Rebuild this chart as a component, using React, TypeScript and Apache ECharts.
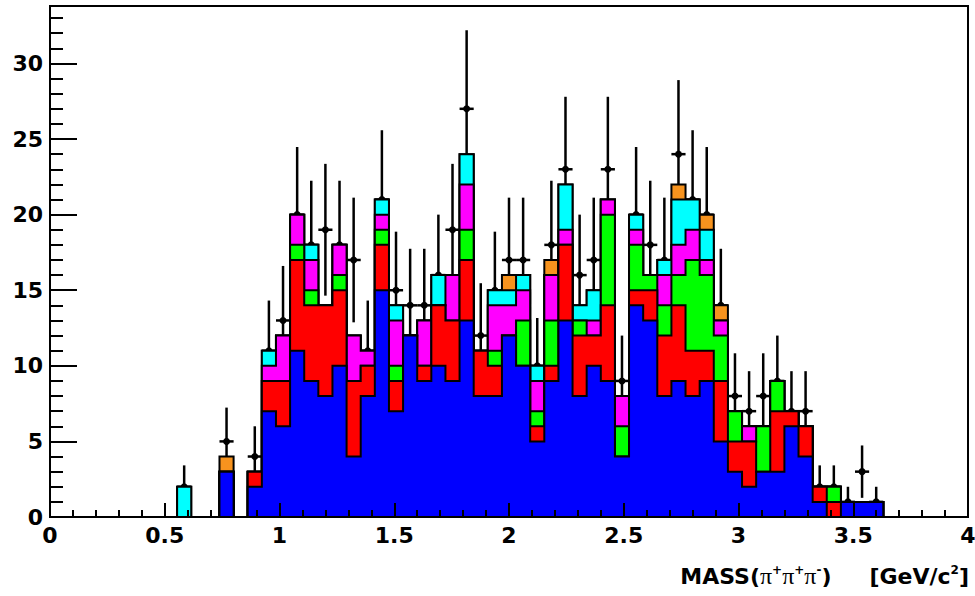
import React, { useEffect, useRef } from "react";
import * as echarts from "echarts";

// Histogram binning: 65 bins over [0, 4]; listed bins start at index 9
const X_MIN = 0;
const X_MAX = 4;
const N_BINS = 65;
const FIRST_BIN = 9;

// Stacked components (bins 9..58), bottom to top
const blueCounts = [0,0,0,3,0,2,7,6,11,9, 8,10,4,8,15,7,12,9,10,9, 13,8,8,12,10,5,9,13,8,10, 9,4,14,13,8,9,8,9,5,3, 2,3,3,6,4,1,0,1,1,1];
const redCounts = [0,0,0,0,0,1,2,3,6,5, 6,5,5,2,3,2,0,1,4,4, 4,3,2,0,0,1,1,5,4,2, 5,0,1,2,4,5,3,2,4,2, 3,0,4,1,2,1,1,0,0,0];
const greenCounts = [0,0,0,0,0,0,0,0,1,1, 0,1,0,0,1,1,0,0,0,0, 2,0,1,0,3,1,3,0,1,0, 6,2,3,1,2,2,6,5,3,2, 0,3,2,0,0,0,1,0,0,0];
const magentaCounts = [0,0,0,0,0,0,1,3,2,2, 0,2,3,1,1,3,0,3,0,3, 3,0,3,2,2,2,3,1,0,1, 1,2,1,0,2,2,2,1,1,0, 1,0,0,0,0,0,0,0,0,0];
const cyanCounts = [2,0,0,0,0,0,1,0,0,1, 0,0,0,0,1,1,0,0,2,0, 2,0,1,1,1,1,0,3,1,2, 0,0,1,0,1,3,2,2,0,0, 0,0,0,0,0,0,0,0,0,0];
const orangeCounts = [0,0,0,1,0,0,0,0,0,0, 0,0,0,0,0,0,0,0,0,0, 0,0,0,1,0,0,1,0,0,0, 0,0,0,0,0,1,0,1,1,0, 0,0,0,0,0,0,0,0,0,0];

// Data points (bins 9..58)
const dataCounts = [2,0,0,5,0,4,11,13,20,18, 19,18,17,11,21,15,14,14,16,19, 27,12,15,17,17,10,18,23,16,17, 23,9,20,18,17,24,21,20,14,8, 7,8,9,7,7,2,2,1,3,1];

const layerCounts = [blueCounts, redCounts, greenCounts, magentaCounts, cyanCounts, orangeCounts];
const layerColors = ["#0000ff", "#ff0000", "#00ff00", "#ff00ff", "#00ffff", "#f7931e"];

const BIN_W = (X_MAX - X_MIN) / N_BINS;
const binLeft = (i: number) => X_MIN + (FIRST_BIN + i) * BIN_W;

const cumulative = (level: number) =>
  blueCounts.map((_, i) => {
    let s = 0;
    for (let k = 0; k <= level; k++) s += layerCounts[k][i];
    return s;
  });

const FONT = "'DejaVu Sans', Verdana, sans-serif";

export default function App() {
  const ref = useRef<HTMLDivElement>(null);
  useEffect(() => {
    if (!ref.current) return;
    const chart = echarts.init(ref.current, null, { renderer: "svg" });

    const stackData = [5, 4, 3, 2, 1, 0].map((l) => [l, 0]);
    const pointData = dataCounts
      .map((n, i) => [binLeft(i) + BIN_W / 2, n])
      .filter((d) => d[1] > 0);

    chart.setOption({
      animation: false,
      backgroundColor: "#ffffff",
      grid: {
        left: 50,
        right: 7,
        top: 6,
        bottom: 79,
        show: true,
        borderColor: "#000",
        borderWidth: 2,
        backgroundColor: "transparent",
        outerBoundsMode: "none",
      },
      xAxis: {
        type: "value",
        min: X_MIN,
        max: X_MAX,
        interval: 0.5,
        z: 5,
        axisLine: { show: true, lineStyle: { color: "#000", width: 2 } },
        axisTick: { show: true, inside: true, length: 14, lineStyle: { color: "#000", width: 2 } },
        minorTick: { show: true, splitNumber: 5, length: 7, lineStyle: { color: "#000", width: 2 } },
        splitLine: { show: false },
        minorSplitLine: { show: false },
        axisLabel: {
          color: "#000",
          fontFamily: FONT,
          fontWeight: "bold",
          fontSize: 22,
          margin: 7,
        },
      },
      yAxis: {
        type: "value",
        min: 0,
        max: 33.8,
        interval: 5,
        z: 5,
        axisLine: { show: true, lineStyle: { color: "#000", width: 2 } },
        axisTick: { show: true, inside: true, length: 27, lineStyle: { color: "#000", width: 2 } },
        minorTick: { show: true, splitNumber: 5, length: 13, lineStyle: { color: "#000", width: 2 } },
        splitLine: { show: false },
        minorSplitLine: { show: false },
        axisLabel: {
          color: "#000",
          fontFamily: FONT,
          fontWeight: "bold",
          fontSize: 22,
          margin: 7,
          showMaxLabel: false,
          formatter: (v: number) => (Math.abs(v % 5) < 1e-9 ? String(v) : ""),
        },
      },
      series: [
        {
          type: "custom",
          name: "data",
          coordinateSystem: "cartesian2d",
          z: 1,
          data: pointData,
          renderItem: (_params: any, api: any) => {
            const x = api.value(0) as number;
            const n = api.value(1) as number;
            const e = Math.sqrt(n);
            const c = api.coord([x, n]);
            const t = api.coord([x, n + e]);
            const b = api.coord([x, Math.max(0, n - e)]);
            const l = api.coord([x - BIN_W / 2, n]);
            const r = api.coord([x + BIN_W / 2, n]);
            return {
              type: "group",
              children: [
                { type: "line", shape: { x1: c[0], y1: t[1], x2: c[0], y2: b[1] }, style: { stroke: "#000", lineWidth: 2.5 } },
                { type: "line", shape: { x1: l[0], y1: c[1], x2: r[0], y2: c[1] }, style: { stroke: "#000", lineWidth: 2.5 } },
                { type: "circle", shape: { cx: c[0], cy: c[1], r: 3.5 }, style: { fill: "#000" } },
              ],
            };
          },
        },
        {
          type: "custom",
          name: "stack",
          coordinateSystem: "cartesian2d",
          z: 2,
          data: stackData,
          renderItem: (_params: any, api: any) => {
            const level = api.value(0) as number;
            const cum = cumulative(level);
            const pts: number[][] = [];
            pts.push(api.coord([binLeft(0), 0]));
            cum.forEach((v, i) => {
              pts.push(api.coord([binLeft(i), v]));
              pts.push(api.coord([binLeft(i + 1), v]));
            });
            pts.push(api.coord([binLeft(cum.length), 0]));
            return {
              type: "polygon",
              z2: 10 - level,
              shape: { points: pts },
              style: { fill: layerColors[level], stroke: "#000", lineWidth: 2, lineJoin: "miter" },
            };
          },
        },
      ],
      graphic: [
        {
          type: "text",
          right: 6,
          top: 564,
          style: {
            text: "{b|MASS(}{p|π}{s|+}{p|π}{s|+}{p|π}{s|-}{b|)}{g|}{b|[GeV/c}{s|2}{b|]}",
            rich: {
              b: { fontFamily: FONT, fontWeight: "bold", fontSize: 22, fill: "#000" },
              p: { fontFamily: "'Liberation Serif', 'DejaVu Serif', serif", fontSize: 24, fill: "#000" },
              s: { fontFamily: FONT, fontWeight: "bold", fontSize: 12, fill: "#000", verticalAlign: "top" },
              g: { width: 38, fontSize: 22 },
            },
          },
        },
      ],
    });
    return () => chart.dispose();
  }, []);

  return (
    <div
      ref={ref}
      style={{ position: "fixed", left: 0, top: 0, width: 975, height: 596, background: "#fff" }}
    />
  );
}
